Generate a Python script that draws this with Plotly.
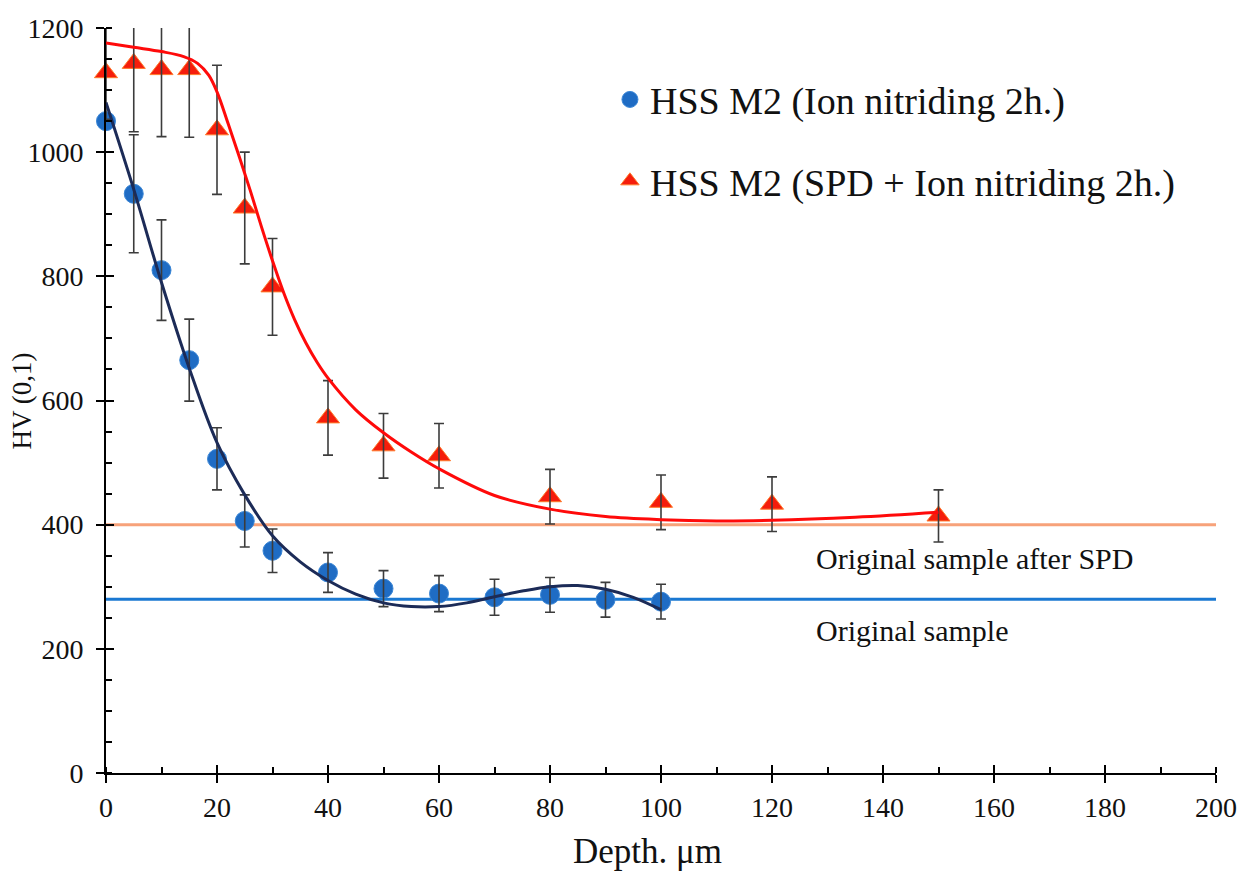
import plotly.graph_objects as go

# ---- data ----
blue_x = [0, 5, 10, 15, 20, 25, 30, 40, 50, 60, 70, 80, 90, 100]
blue_y = [1050, 933, 810, 665, 506, 406, 358, 323, 297, 289, 283, 287, 279, 276]
blue_err = [0, 95, 81, 66, 50, 42, 35, 32, 29, 29, 29, 28, 28, 28]

red_x = [0, 5, 10, 15, 20, 25, 30, 40, 50, 60, 80, 100, 120, 150]
red_y = [1128, 1143, 1133, 1133, 1036, 910, 783, 572, 527, 511, 445, 436, 433, 414]
red_err = [75, 110, 108, 109, 104, 90, 78, 60, 52, 52, 44, 44, 44, 42]

blue_fit_x = [0, 5, 10, 15, 20, 25, 30, 35, 40, 45, 50, 55, 60, 65, 70, 75, 80, 85, 90, 95, 100]
blue_fit_y = [1080, 940, 790, 652, 532, 448, 382, 340, 310, 288, 274, 268, 268, 274, 284, 293, 300, 302, 296, 283, 263]

red_fit_x = [0, 5, 10, 14, 16.5, 18.5, 20, 22, 24, 26, 28, 30, 32, 34, 36, 38, 40, 45, 50, 55, 60, 70, 80, 90, 100, 110, 120, 135, 150]
red_fit_y = [1176, 1169, 1162, 1154, 1143, 1124, 1097, 1046, 993, 938, 880, 825, 774, 730, 693, 662, 636, 585, 548, 517, 490, 447, 425, 413, 408, 406, 407, 412, 420]

ref_x = [0, 200]
ref_spd_y = [400, 400]
ref_orig_y = [280, 280]

x_range = [0, 200]
y_range = [0, 1200]

names = ["HSS M2 (Ion nitriding 2h.)", "HSS M2 (SPD + Ion nitriding 2h.)"]
notes = ["Original sample after SPD", "Original sample"]
note_pos_x = [127.5, 127.5]
note_pos_y = [346, 230]

FONT = "Liberation Serif, Times New Roman, serif"
BLUE = "#1f6cc4"
RED = "#f51d0c"
NAVY = "#1c2b57"
ERR = "#3c3c3c"

fig = go.Figure()

# reference horizontal lines
fig.add_trace(go.Scatter(x=ref_x, y=ref_spd_y, mode="lines",
                         line=dict(color="#f7a27a", width=3), showlegend=False, hoverinfo="skip"))
fig.add_trace(go.Scatter(x=ref_x, y=ref_orig_y, mode="lines",
                         line=dict(color="#1a78d2", width=3), showlegend=False, hoverinfo="skip"))

# markers (unclipped)
fig.add_trace(go.Scatter(x=blue_x, y=blue_y, mode="markers", name=names[0],
                         legendgroup="a", cliponaxis=False,
                         marker=dict(symbol="circle", size=19, color=BLUE,
                                     line=dict(width=1, color="#3a86d6"))))
fig.add_trace(go.Scatter(x=red_x, y=red_y, mode="markers", name=names[1],
                         legendgroup="b", cliponaxis=False,
                         marker=dict(symbol="triangle-up", size=20, color=RED,
                                     line=dict(width=1, color="#ff7a2a"))))

# error bars (clipped to plot area), drawn over markers
for xs, ys, es in [(blue_x, blue_y, blue_err), (red_x, red_y, red_err)]:
    fig.add_trace(go.Scatter(x=xs, y=ys, mode="markers", showlegend=False, hoverinfo="skip",
                             marker=dict(size=1, color="rgba(0,0,0,0)"),
                             error_y=dict(type="data", array=es, visible=True,
                                          color=ERR, thickness=1.6, width=5)))

# fitted curves
fig.add_trace(go.Scatter(x=blue_fit_x, y=blue_fit_y, mode="lines", line_shape="spline",
                         line=dict(color=NAVY, width=3), showlegend=False, hoverinfo="skip"))
fig.add_trace(go.Scatter(x=red_fit_x, y=red_fit_y, mode="lines", line_shape="spline",
                         line=dict(color="#ff0a0a", width=3), showlegend=False, hoverinfo="skip"))

for t, xx, yy in zip(notes, note_pos_x, note_pos_y):
    fig.add_annotation(x=xx, y=yy, xref="x", yref="y", text=t, showarrow=False,
                       xanchor="left", yanchor="middle",
                       font=dict(family=FONT, size=30, color="#111111"))

# axis titles placed as annotations
fig.add_annotation(x=-0.0757, y=0.5, xref="paper", yref="paper", text="HV (0,1)",
                   showarrow=False, textangle=-90, xanchor="center", yanchor="middle",
                   font=dict(family=FONT, size=27, color="#111111"))
fig.add_annotation(x=0.4875, y=-0.1047, xref="paper", yref="paper", text="Depth. μm",
                   showarrow=False, xanchor="center", yanchor="middle",
                   font=dict(family=FONT, size=35, color="#111111"))

axis_common = dict(showgrid=False, zeroline=False, linecolor="black", linewidth=2,
                   tickcolor="black", tickwidth=1.6, automargin=False)

fig.update_layout(
    width=1239, height=865,
    margin=dict(l=98, r=31, t=20, b=100),
    paper_bgcolor="white", plot_bgcolor="white",
    font=dict(family=FONT, color="#111111"),
    xaxis=dict(range=x_range, tick0=0, dtick=20, ticks="outside", ticklen=8,
               showline=True, tickfont=dict(family=FONT, size=28),
               minor=dict(ticks="inside", dtick=10, ticklen=6, tickwidth=1.6, tickcolor="black"),
               **axis_common),
    yaxis=dict(range=y_range, tick0=0, dtick=200, ticks="outside", ticklen=8,
               showline=True, tickfont=dict(family=FONT, size=28), ticklabelstandoff=7,
               minor=dict(ticks="inside", dtick=50, ticklen=6, tickwidth=1.6, tickcolor="black"),
               **axis_common),
    xaxis2=dict(range=x_range, overlaying="x", anchor="y", side="bottom", dtick=20, tick0=0,
                ticks="inside", ticklen=8, showticklabels=False, showline=False,
                showgrid=False, zeroline=False, tickcolor="black", tickwidth=1.6,
                automargin=False),
    yaxis2=dict(range=y_range, overlaying="y", anchor="x", side="left", dtick=200, tick0=0,
                ticks="inside", ticklen=8, showticklabels=False, showline=False,
                showgrid=False, zeroline=False, tickcolor="black", tickwidth=1.6,
                automargin=False),
    legend=dict(x=0.454, y=0.946, xanchor="left", yanchor="top",
                font=dict(family=FONT, size=38, color="#111111"),
                bgcolor="rgba(0,0,0,0)", tracegroupgap=29),
)

# invisible trace to hold the overlay axes
fig.add_trace(go.Scatter(x=[None], y=[None], xaxis="x2", yaxis="y2", showlegend=False,
                         hoverinfo="skip"))

fig.write_html("out.html")
